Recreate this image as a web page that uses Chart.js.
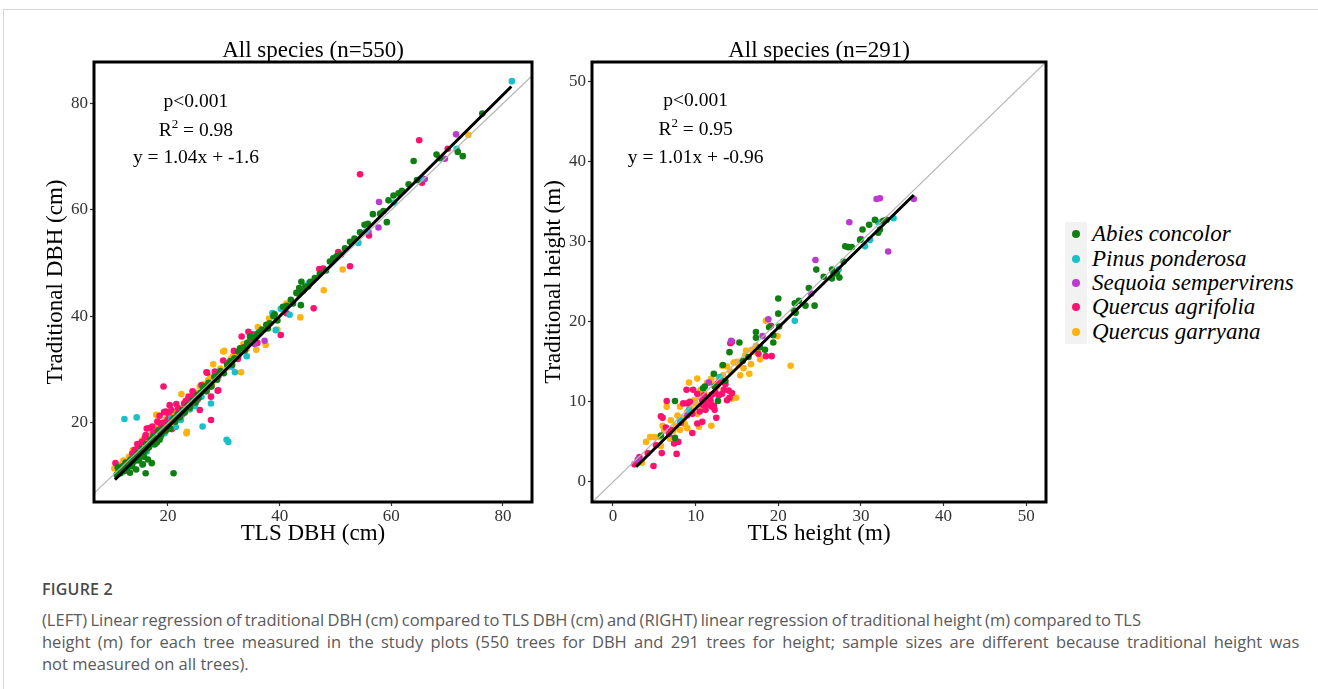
<!DOCTYPE html>
<html>
<head>
<meta charset="utf-8">
<script src="https://cdn.jsdelivr.net/npm/chart.js@4.4.1/dist/chart.umd.min.js"></script>
<style>
  body { margin: 0; background: #fff; width: 1318px; height: 689px; overflow: hidden; position: relative; }
  .frame { position: absolute; left: 3px; top: 9px; width: 1400px; height: 800px; border-left: 1px solid #d6d6d6; border-top: 1px solid #d6d6d6; }
  #left { position: absolute; left: 0; top: 0; }
  #right { position: absolute; left: 500px; top: 0; }
  .legend { position: absolute; left: 1065px; top: 222px; font-family: 'Liberation Serif', serif; }
  .legend .row { display: flex; height: 24.4px; align-items: center; }
  .legend .key { width: 22px; height: 24.4px; background: #f2f2f2; position: relative; }
  .legend .key span { position: absolute; left: 7px; top: 8.2px; width: 8px; height: 8px; border-radius: 50%; }
  .legend .lab { margin-left: 5px; font-style: italic; font-size: 23px; color: #000; white-space: nowrap; }
  .caption { position: absolute; left: 42px; top: 578px; font-family: 'Open Sans', sans-serif; color: #5a5a5a; }
  .caption h4 { margin: 0 0 9px 0; font-size: 16px; font-weight: 600; color: #4a4a4a; letter-spacing: 0.2px; }
  .caption p { margin: 0; font-size: 16.5px; line-height: 22px; white-space: nowrap; }
  .caption .l1 { word-spacing: -1px; }
  .caption .l2 { word-spacing: 3px; }
</style>
</head>
<body>
<div class="frame"></div>
<canvas id="left" width="545" height="548"></canvas>
<canvas id="right" width="560" height="548"></canvas>

<div class="legend" id="legend"></div>

<div class="caption">
  <h4>FIGURE 2</h4>
  <p><span class="l1">(LEFT) Linear regression of traditional DBH (cm) compared to TLS DBH (cm) and (RIGHT) linear regression of traditional height (m) compared to TLS</span><br>
  <span class="l2">height (m) for each tree measured in the study plots (550 trees for DBH and 291 trees for height; sample sizes are different because traditional height was</span><br>
  not measured on all trees).</p>
</div>

<script>
// species + colours
const species = ['Abies concolor', 'Pinus ponderosa', 'Sequoia sempervirens', 'Quercus agrifolia', 'Quercus garryana'];
const colors = ['#0f7f12', '#19c0c8', '#bb3ccc', '#ff1170', '#ffb30f'];

// LEFT: TLS DBH (x) vs traditional DBH (y), cm
const dbhAbies = [[10.8,10.2],[11.0,11.6],[11.2,11.0],[11.5,10.5],[11.9,11.8],[12.1,10.9],[12.2,11.4],[12.4,12.5],[12.7,11.3],[12.9,12.0],[13.0,12.5],[13.2,10.6],[13.3,13.1],[13.6,11.8],[13.8,13.2],[13.9,12.7],[14.1,13.6],[14.3,11.2],[14.5,13.0],[14.6,14.3],[14.8,12.9],[15.0,13.8],[15.1,14.4],[15.3,15.1],[15.5,12.2],[15.7,13.6],[15.8,14.6],[16.0,10.5],[16.1,16.0],[16.3,15.2],[16.4,13.1],[16.6,15.4],[16.9,16.8],[17.1,12.4],[17.2,16.1],[17.3,17.3],[17.6,15.9],[17.9,17.0],[18.0,16.3],[18.2,18.4],[18.5,16.8],[18.7,17.4],[18.9,18.0],[19.2,19.0],[19.6,18.5],[19.9,18.9],[20.0,19.6],[20.4,18.9],[20.8,20.5],[21.0,10.5],[21.1,20.9],[21.3,20.2],[21.7,21.6],[22.1,21.0],[22.3,21.8],[22.6,22.4],[23.0,21.9],[23.5,23.2],[23.9,22.8],[24.0,23.4],[24.4,24.1],[24.9,23.8],[25.3,25.2],[25.5,24.7],[25.8,25.6],[26.3,26.7],[26.9,25.9],[27.0,27.0],[27.3,27.5],[27.8,26.8],[28.3,28.6],[28.8,28.1],[29.0,28.9],[29.4,29.7],[30.0,29.3],[30.6,30.9],[31.2,31.6],[31.5,30.9],[31.9,32.1],[32.6,33.4],[32.9,34.0],[33.5,34.1],[33.8,33.6],[34.2,35.0],[34.7,36.2],[35.3,35.9],[36.0,36.6],[36.4,37.0],[36.8,37.5],[37.6,38.4],[37.9,37.7],[38.2,38.7],[38.9,40.0],[39.1,40.4],[39.6,39.2],[40.6,41.8],[41.3,42.0],[42.0,43.1],[42.4,42.4],[43.0,44.4],[43.3,44.3],[43.5,45.3],[43.8,42.1],[43.9,46.5],[44.2,44.8],[44.6,45.6],[45.1,45.6],[45.5,46.5],[46.3,47.2],[47.2,48.0],[48.3,48.6],[49.0,50.3],[49.6,50.9],[50.2,51.3],[51.0,51.6],[51.7,52.8],[52.6,54.0],[53.4,54.6],[54.4,55.8],[55.2,57.2],[55.8,57.4],[56.7,59.2],[58.0,59.3],[58.6,59.8],[59.2,57.7],[59.5,61.8],[60.4,62.7],[61.3,63.1],[61.9,63.6],[63.1,64.8],[64.0,69.2],[64.6,65.6],[68.1,70.4],[68.7,69.7],[71.9,70.9],[72.8,70.1],[76.3,78.1]];
const dbhPinus = [[12.2,20.7],[14.4,21.0],[13.0,12.3],[15.4,12.1],[16.2,14.6],[17.5,16.8],[19.4,18.0],[20.6,20.9],[21.4,19.2],[22.3,20.5],[22.8,21.8],[23.9,22.5],[24.8,23.1],[26.2,19.3],[27.7,23.6],[26.0,24.9],[30.5,16.8],[30.8,16.4],[31.4,30.5],[32.0,29.5],[33.6,33.9],[34.1,32.5],[36.2,36.9],[38.7,40.6],[39.3,37.4],[40.2,41.4],[41.8,40.3],[45.2,46.2],[54.1,53.8],[55.5,56.0],[60.5,61.4],[65.3,65.9],[71.7,71.5],[81.6,84.2]];
const dbhSequoia = [[24.9,23.6],[29.0,28.7],[35.5,34.8],[37.3,35.4],[55.9,55.9],[57.7,56.7],[57.8,61.5],[66.0,65.8],[69.6,69.6],[71.6,74.2]];
const dbhAgrifolia = [[10.6,12.4],[11.4,10.8],[12.5,11.0],[13.6,14.2],[14.0,14.9],[14.5,16.0],[14.8,15.6],[15.3,16.4],[15.9,17.2],[16.0,17.7],[16.2,18.9],[16.7,19.0],[17.0,16.0],[17.2,19.3],[17.4,18.2],[17.8,17.1],[18.1,20.2],[18.3,18.6],[18.5,21.3],[18.8,19.4],[19.0,20.0],[19.2,26.8],[19.3,22.0],[19.6,22.1],[19.9,20.5],[20.3,23.3],[20.1,21.6],[20.6,22.4],[20.7,18.8],[21.0,20.8],[21.5,23.5],[21.8,22.7],[22.0,21.9],[22.5,21.5],[22.9,23.6],[23.2,24.1],[23.7,24.9],[24.2,24.6],[24.4,25.9],[24.6,25.5],[25.0,25.2],[25.3,24.3],[25.7,22.4],[26.0,27.1],[26.3,26.0],[26.9,29.5],[27.0,29.4],[27.4,26.7],[27.7,24.9],[27.7,20.5],[28.4,29.6],[28.9,26.0],[29.0,26.1],[29.9,31.7],[30.7,31.2],[31.8,33.5],[32.5,32.0],[33.2,36.2],[33.6,34.2],[34.4,37.1],[34.8,35.7],[35.2,36.6],[36.0,35.0],[40.2,36.5],[41.2,40.6],[46.1,41.5],[47.1,48.9],[47.8,49.0],[50.5,52.1],[52.6,49.4],[54.4,66.7],[56.0,55.2],[65.0,73.1],[65.5,65.1],[70.1,71.5]];
const dbhGarryana = [[10.4,11.4],[11.5,12.0],[12.0,12.9],[12.4,11.9],[13.0,13.6],[13.7,14.8],[14.4,14.2],[14.9,14.3],[15.0,15.6],[15.5,16.8],[16.2,17.5],[16.6,16.2],[17.0,17.8],[17.6,16.6],[17.9,21.5],[18.0,21.4],[18.3,19.2],[18.6,18.0],[19.0,19.8],[19.3,19.1],[19.6,20.6],[20.0,20.8],[20.3,19.6],[20.8,21.3],[21.0,22.0],[21.4,20.7],[21.8,21.1],[22.2,22.6],[22.4,25.4],[22.8,22.9],[23.0,23.8],[23.3,18.0],[23.4,18.3],[23.7,24.8],[24.1,24.2],[24.5,23.5],[25.0,25.6],[25.7,26.8],[26.0,26.0],[26.5,27.2],[26.9,26.4],[27.2,28.0],[27.6,28.6],[27.9,27.3],[28.1,31.0],[28.6,29.4],[29.0,28.6],[29.4,30.2],[29.9,33.4],[30.1,33.5],[30.6,30.4],[31.2,31.9],[31.6,32.4],[32.0,32.8],[32.6,32.3],[33.1,29.5],[33.5,34.8],[34.1,33.9],[34.6,35.4],[35.2,35.8],[35.8,33.7],[36.1,38.0],[37.5,34.6],[38.1,39.6],[39.6,37.5],[41.2,42.4],[43.7,39.8],[47.9,44.9],[51.3,48.8],[73.8,74.1]];
const dbhFit = [[10.5, 9.3], [81.5, 83.2]];   // y = 1.04x + -1.6
const dbhTicks = [20, 40, 60, 80];

// RIGHT: TLS height (x) vs traditional height (y), m
const htAbies = [[5.8,5.8],[7.5,5.5],[7.5,10.1],[10.9,11.7],[11.1,11.9],[12.3,11.9],[12.2,13.5],[12.7,10.1],[13.3,14.6],[13.6,12.6],[14.1,16.2],[15.3,17.4],[15.7,15.1],[16.4,15.6],[17.3,18.7],[17.3,18.0],[17.8,16.8],[18.4,16.5],[18.9,19.3],[19.4,18.3],[19.4,17.4],[20.0,22.9],[20.0,21.0],[20.1,19.4],[21.9,21.4],[22.0,22.3],[22.1,21.1],[22.5,22.6],[23.3,22.0],[23.7,24.2],[24.4,22.0],[24.6,26.5],[25.5,25.6],[26.5,26.5],[26.5,25.4],[26.7,26.0],[27.1,26.0],[27.4,25.5],[27.9,27.5],[28.1,29.4],[28.5,29.3],[28.9,29.3],[29.9,30.2],[30.2,31.5],[31.0,32.1],[31.7,32.7],[32.1,31.1],[32.3,31.5],[32.7,32.6],[33.1,32.7]];
const htPinus = [[8.1,7.7],[9.2,9.0],[12.9,13.1],[22.0,20.1],[27.3,26.5],[30.5,29.4],[31.1,30.2],[32.1,32.4],[33.95,32.9]];
const htSequoia = [[3.0,2.8],[9.0,8.3],[11.6,12.4],[14.3,17.6],[18.1,18.2],[18.8,20.3],[24.0,23.5],[24.5,27.7],[28.6,32.4],[30.0,30.3],[31.9,35.3],[32.3,35.4],[33.3,28.75],[36.4,35.3]];
const htAgrifolia = [[2.6,2.2],[2.9,2.4],[3.2,3.1],[4.2,3.6],[4.9,2.0],[5.2,4.6],[5.9,3.6],[7.7,3.5],[7.4,4.8],[7.9,5.0],[5.8,8.2],[6.0,8.0],[6.5,10.1],[6.4,6.8],[6.8,6.0],[7.0,6.5],[8.2,7.4],[8.5,9.8],[8.9,11.5],[9.0,9.8],[9.3,10.0],[9.7,11.5],[9.6,8.5],[9.6,6.1],[10.2,7.3],[10.5,8.8],[10.8,7.5],[10.2,11.0],[10.8,10.2],[10.9,9.6],[11.0,10.8],[11.2,9.0],[11.3,10.5],[11.4,9.8],[11.6,9.6],[11.8,10.2],[11.8,9.8],[12.0,9.4],[12.0,10.9],[12.2,9.5],[12.3,9.0],[12.4,11.2],[12.5,8.0],[12.7,12.3],[12.8,10.8],[13.2,11.0],[13.2,12.6],[13.4,11.5],[13.6,12.2],[13.8,10.2],[14.0,11.4],[14.1,10.5],[14.4,11.1],[14.2,17.3],[14.4,17.5],[17.6,16.0],[18.5,15.7],[19.2,15.7],[19.1,19.5]];
const htGarryana = [[3.5,2.4],[4.0,5.0],[4.5,5.6],[5.0,5.6],[5.6,5.6],[5.8,4.5],[6.0,7.0],[6.2,6.4],[6.5,9.4],[6.9,5.4],[7.0,7.7],[7.3,6.4],[7.6,7.0],[7.8,8.3],[8.1,6.5],[8.1,9.4],[8.3,8.0],[8.5,7.7],[8.7,7.2],[9.0,6.7],[9.0,8.75],[9.2,12.4],[9.4,9.2],[9.8,10.2],[10.0,9.8],[10.2,12.9],[10.2,8.5],[10.4,6.9],[10.4,10.6],[10.6,11.5],[10.8,9.4],[11.0,11.2],[11.4,12.4],[11.8,10.8],[11.9,12.9],[11.9,7.0],[12.2,12.2],[12.6,11.9],[12.8,13.0],[13.0,12.5],[13.2,14.5],[13.3,13.3],[13.5,12.8],[13.8,14.4],[14.2,13.8],[14.4,10.4],[14.6,14.9],[14.9,10.5],[15.0,15.0],[15.2,14.6],[15.4,13.3],[15.8,14.2],[16.0,15.8],[16.1,16.4],[16.5,13.5],[16.7,14.7],[16.8,16.5],[17.0,16.25],[17.3,17.0],[17.6,16.7],[17.8,15.3],[18.5,20.1],[19.9,18.2],[21.5,14.5]];
const htFit = [[2.8, 1.9], [36.4, 35.8]];   // y = 1.01x + -0.96
const htTicks = [0, 10, 20, 30, 40, 50];

const oneToOne = [[-10, -10], [100, 100]];
const serif = "'Liberation Serif', 'Times New Roman', serif";

// thick black box round the panel
const boxPlugin = {
  id: 'panelBox',
  afterDraw(chart) {
    const a = chart.chartArea, ctx = chart.ctx;
    ctx.save();
    ctx.strokeStyle = '#000';
    ctx.lineWidth = 3;
    ctx.strokeRect(a.left, a.top, a.right - a.left, a.bottom - a.top);
    ctx.restore();
  }
};

// p, R^2, equation text
const statsPlugin = {
  id: 'stats',
  afterDraw(chart, args, opts) {
    const ctx = chart.ctx, xs = chart.scales.x, ys = chart.scales.y;
    const cx = xs.getPixelForValue(opts.x);
    ctx.save();
    ctx.fillStyle = '#000';
    ctx.textBaseline = 'middle';
    ctx.textAlign = 'left';
    const big = '19.5px ' + serif, small = '13px ' + serif;
    ctx.font = big;
    let w = ctx.measureText(opts.p).width;
    ctx.fillText(opts.p, cx - w / 2, ys.getPixelForValue(opts.y[0]));
    const y2 = ys.getPixelForValue(opts.y[1]);
    const rest = ' = ' + opts.r2;
    const wR = ctx.measureText('R').width, wRest = ctx.measureText(rest).width;
    ctx.font = small;
    const wS = ctx.measureText('2').width;
    const x0 = cx - (wR + wS + wRest) / 2;
    ctx.font = big;
    ctx.fillText('R', x0, y2);
    ctx.fillText(rest, x0 + wR + wS, y2);
    ctx.font = small;
    ctx.fillText('2', x0 + wR, y2 - 6.5);
    ctx.font = big;
    w = ctx.measureText(opts.eq).width;
    ctx.fillText(opts.eq, cx - w / 2, ys.getPixelForValue(opts.y[2]));
    ctx.restore();
  }
};

function makePanel(id, cfg) {
  const pts = cfg.series.map((d, i) => ({
    label: species[i],
    data: d.map(p => ({ x: p[0], y: p[1] })),
    backgroundColor: colors[i],
    borderWidth: 0,
    pointRadius: 3.3,
    order: 2
  }));
  const lines = [
    { label: 'fit', data: cfg.fit.map(p => ({ x: p[0], y: p[1] })), showLine: true,
      borderColor: '#000', borderWidth: 3, pointRadius: 0, order: 0 },
    { label: '1:1', data: oneToOne.map(p => ({ x: p[0], y: p[1] })), showLine: true,
      borderColor: '#b5b5b5', borderWidth: 1.2, pointRadius: 0, order: 1 }
  ];
  const tickFont = { family: serif, size: 17 };
  const titleFont = { family: serif, size: 23 };
  const grid = { display: true, drawOnChartArea: false, drawTicks: true, tickLength: 4, tickWidth: 1.2, tickColor: '#333' };
  new Chart(document.getElementById(id), {
    type: 'scatter',
    data: { datasets: lines.concat(pts) },
    options: {
      responsive: false,
      animation: false,
      events: [],
      layout: { padding: cfg.pad },
      scales: {
        x: {
          type: 'linear', min: cfg.xRange[0], max: cfg.xRange[1],
          afterBuildTicks: s => { s.ticks = cfg.ticks.map(v => ({ value: v })); },
          afterFit: s => { s.height = 46; },
          grid: grid, border: { display: false },
          ticks: { color: '#333', font: tickFont, padding: 0, maxRotation: 0 },
          title: { display: true, text: cfg.xTitle, color: '#000', font: titleFont, padding: 0 }
        },
        y: {
          type: 'linear', min: cfg.yRange[0], max: cfg.yRange[1],
          afterBuildTicks: s => { s.ticks = cfg.ticks.map(v => ({ value: v })); },
          afterFit: s => { s.width = 52; },
          grid: grid, border: { display: false },
          ticks: { color: '#333', font: tickFont, padding: 2 },
          title: { display: true, text: cfg.yTitle, color: '#000', font: titleFont, padding: 0 }
        }
      },
      plugins: {
        legend: { display: false },
        tooltip: { enabled: false },
        title: {
          display: true, text: cfg.title, color: '#000', fullSize: false,
          font: { family: serif, size: 23, weight: 'normal', lineHeight: 1 },
          padding: { top: 39, bottom: 0 }
        },
        stats: cfg.stats
      }
    },
    plugins: [boxPlugin, statsPlugin]
  });
}

makePanel('left', {
  title: 'All species (n=550)',
  xTitle: 'TLS DBH (cm)', yTitle: 'Traditional DBH (cm)',
  series: [dbhAbies, dbhPinus, dbhSequoia, dbhAgrifolia, dbhGarryana],
  fit: dbhFit, ticks: dbhTicks,
  xRange: [6.75, 85.2], yRange: [5.1, 87.8],
  pad: { left: 42, right: 13, top: 0, bottom: 0 },
  stats: { x: 25.0, y: [80.3, 74.85, 69.7], p: 'p<0.001', r2: '0.98', eq: 'y = 1.04x + -1.6' }
});

makePanel('right', {
  title: 'All species (n=291)',
  xTitle: 'TLS height (m)', yTitle: 'Traditional height (m)',
  series: [htAbies, htPinus, htSequoia, htAgrifolia, htGarryana],
  fit: htFit, ticks: htTicks,
  xRange: [-2.54, 52.4], yRange: [-2.5, 52.4],
  pad: { left: 40, right: 14, top: 0, bottom: 0 },
  stats: { x: 10.0, y: [47.5, 43.9, 40.4], p: 'p<0.001', r2: '0.95', eq: 'y = 1.01x + -0.96' }
});

// shared legend
const legend = document.getElementById('legend');
species.forEach((s, i) => {
  const row = document.createElement('div');
  row.className = 'row';
  row.innerHTML = '<div class="key"><span style="background:' + colors[i] + '"></span></div><div class="lab">' + s + '</div>';
  legend.appendChild(row);
});
</script>
</body>
</html>
